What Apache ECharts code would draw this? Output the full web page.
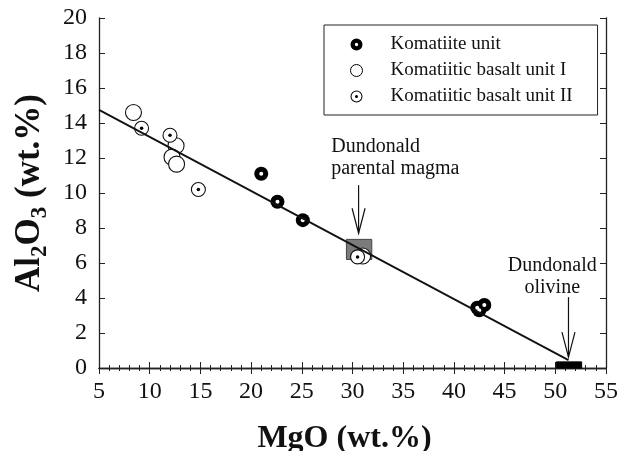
<!DOCTYPE html>
<html>
<head>
<meta charset="utf-8">
<style>
  html, body { margin: 0; padding: 0; background: #fff; }
  #chart { width: 619px; height: 451px; }
</style>
<script src="https://cdn.jsdelivr.net/npm/echarts@6/dist/echarts.min.js"></script>
</head>
<body>
<div id="chart"></div>
<script>
// MgO vs Al2O3 (wt.%)
const komatiiteMgO = [21.0, 22.6, 25.1, 42.3, 42.5, 43.0];
const komatiiteAl = [11.1, 9.5, 8.45, 3.45, 3.3, 3.6];
const basalt1MgO = [8.4, 12.6, 12.2, 12.65, 31.0];
const basalt1Al = [14.6, 12.7, 12.05, 11.65, 6.4];
const basalt2MgO = [9.2, 12.0, 14.8, 30.5];
const basalt2Al = [13.7, 13.3, 10.2, 6.35];
const trendMgO = [5, 51.3];
const trendAl = [14.75, 0.45];

// [MgO from, MgO to, Al2O3 from, Al2O3 to]
const parentalBox = [29.4, 31.9, 6.2, 7.35];
const olivineBox = [50.1, 52.6, 0, 0.35];
// [MgO, Al2O3 tail, Al2O3 tip]
const arrows = [[30.6, 10.45, 7.7], [51.3, 4.05, 0.62]];
const noteText = ["Dundonald\nparental magma", "Dundonald\nolivine"];
const notePos = [[27.9, 12.0], [49.7, 5.2]];

const seriesNames = ["Komatiite unit", "Komatiitic basalt unit I", "Komatiitic basalt unit II"];

const serif = "Liberation Serif";
const ink = "#111";

function zip(xs, ys) {
    return xs.map((x, i) => [x, ys[i]]);
}

const komPath = "path://M0,10A10,10 0 1,1 20,10A10,10 0 1,1 0,10Z M12.8,10A2.8,2.8 0 1,0 7.2,10A2.8,2.8 0 1,0 12.8,10Z";
const ringDotPath = "path://M0,10A10,10 0 1,1 20,10A10,10 0 1,1 0,10Z M18.3,10A8.3,8.3 0 1,0 1.7,10A8.3,8.3 0 1,0 18.3,10Z M12.5,10A2.5,2.5 0 1,1 7.5,10A2.5,2.5 0 1,1 12.5,10Z";

function renderBox(fill, stroke) {
    return (params, api) => {
        const a = api.coord([api.value(0), api.value(3)]);
        const b = api.coord([api.value(1), api.value(2)]);
        return {
            type: "rect",
            shape: { x: a[0], y: a[1], width: b[0] - a[0], height: b[1] - a[1] },
            style: { fill: fill, stroke: stroke, lineWidth: 1 }
        };
    };
}

const chart = echarts.init(document.getElementById("chart"));

const xBase = {
    type: "value", min: 5, max: 55, interval: 5,
    axisLine: { lineStyle: { color: "#222", width: 1.3 } },
    axisTick: { inside: true, length: 6, lineStyle: { color: "#222" } },
    minorTick: { show: true, splitNumber: 5, length: 3, lineStyle: { color: "#222" } },
    splitLine: { show: false }, minorSplitLine: { show: false }
};
const yBase = {
    type: "value", min: 0, max: 20, interval: 2,
    axisLine: { lineStyle: { color: "#222", width: 1.3 } },
    axisTick: { inside: true, length: 6, lineStyle: { color: "#222" } },
    splitLine: { show: false }
};

chart.setOption({
    animation: false,
    grid: { left: 99, right: 13, top: 18, bottom: 83, outerBoundsMode: "none" },
    legend: {
        orient: "vertical",
        left: 324, top: 25,
        padding: [10, 25, 9, 26],
        itemWidth: 12, itemHeight: 12, itemGap: 7,
        borderColor: "#222", borderWidth: 1,
        selectedMode: false,
        textStyle: { fontFamily: serif, fontSize: 19, color: ink, padding: [0, 0, 0, 23] },
        data: [
            { name: seriesNames[0], icon: komPath, itemStyle: { color: "#000", borderWidth: 0 } },
            { name: seriesNames[1], icon: "circle", itemStyle: { color: "#fff", borderColor: "#000", borderWidth: 1 } },
            { name: seriesNames[2], icon: ringDotPath, itemStyle: { color: "#000", borderWidth: 0 } }
        ]
    },
    xAxis: [
        Object.assign({}, xBase, {
            position: "bottom",
            axisLabel: { fontFamily: serif, fontSize: 24, color: ink, margin: 12 },
            name: "MgO (wt.%)", nameLocation: "middle", nameGap: 55,
            nameTextStyle: { fontFamily: serif, fontSize: 32, fontWeight: "bold", color: ink, padding: [0, 16, 0, 0] }
        }),
        Object.assign({}, xBase, { position: "top", axisLabel: { show: false } })
    ],
    yAxis: [
        Object.assign({}, yBase, {
            position: "left",
            axisLabel: { fontFamily: serif, fontSize: 24, color: ink, margin: 12 },
            name: "Al{s|2}O{s|3} (wt.%)", nameLocation: "middle", nameGap: 47,
            nameTextStyle: {
                fontFamily: serif, fontSize: 35, fontWeight: "bold", color: ink,
                rich: { s: { fontFamily: serif, fontSize: 23, fontWeight: "bold", color: ink, verticalAlign: "bottom", lineHeight: 44 } }
            }
        }),
        Object.assign({}, yBase, { position: "right", axisLabel: { show: false } })
    ],
    series: [
        {
            type: "line", name: "trend", data: zip(trendMgO, trendAl),
            symbol: "none", silent: true,
            lineStyle: { color: "#111", width: 1.8 }
        },
        {
            type: "custom", name: "parental", data: [parentalBox], silent: true,
            renderItem: renderBox("#7b7b7b", "#444")
        },
        {
            type: "custom", name: "olivine", data: [olivineBox], silent: true,
            renderItem: renderBox("#000", "#000")
        },
        {
            type: "custom", name: "arrows", data: arrows, silent: true,
            renderItem: (params, api) => {
                const tail = api.coord([api.value(0), api.value(1)]);
                const tip = api.coord([api.value(0), api.value(2)]);
                return {
                    type: "group",
                    children: [
                        { type: "line", shape: { x1: tail[0], y1: tail[1], x2: tip[0], y2: tip[1] }, style: { stroke: "#111", lineWidth: 1.2 } },
                        { type: "polyline", shape: { points: [[tip[0] - 6.5, tip[1] - 25], tip, [tip[0] + 6.5, tip[1] - 25]] }, style: { stroke: "#111", fill: null, lineWidth: 1.2 } }
                    ]
                };
            }
        },
        {
            type: "custom", name: "notes", data: notePos, silent: true,
            renderItem: (params, api) => {
                const p = api.coord([api.value(0), api.value(1)]);
                return {
                    type: "text", x: p[0], y: p[1],
                    style: {
                        text: noteText[params.dataIndex],
                        fontFamily: serif, fontSize: 20, fill: ink, lineHeight: 22,
                        align: params.dataIndex === 0 ? "left" : "center", verticalAlign: "middle"
                    }
                };
            }
        },
        {
            type: "scatter", name: seriesNames[0], data: zip(komatiiteMgO, komatiiteAl),
            symbolSize: 14, itemStyle: { color: "#000", opacity: 1 }
        },
        {
            type: "scatter", name: "komatiite-core", data: zip(komatiiteMgO, komatiiteAl),
            symbolSize: 4, silent: true, itemStyle: { color: "#fff", opacity: 1 }
        },
        {
            type: "scatter", name: seriesNames[1], data: zip(basalt1MgO, basalt1Al),
            symbolSize: 16, itemStyle: { color: "#fff", borderColor: "#111", borderWidth: 1.1, opacity: 1 }
        },
        {
            type: "scatter", name: seriesNames[2], data: zip(basalt2MgO, basalt2Al),
            symbolSize: 14, itemStyle: { color: "#fff", borderColor: "#111", borderWidth: 1.1, opacity: 1 }
        },
        {
            type: "scatter", name: "basalt2-core", data: zip(basalt2MgO, basalt2Al),
            symbolSize: 3.5, silent: true, itemStyle: { color: "#000", opacity: 1 }
        }
    ]
});

window.addEventListener("resize", () => chart.resize());
</script>
</body>
</html>
